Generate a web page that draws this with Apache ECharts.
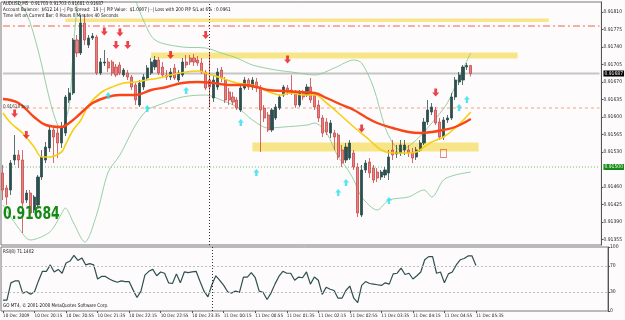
<!DOCTYPE html>
<html>
<head>
<meta charset="utf-8">
<script src="https://cdn.jsdelivr.net/npm/echarts@6.0.0/dist/echarts.min.js"></script>
<style>
html,body{margin:0;padding:0;background:#fdfbfc;}
#main{width:625px;height:320px;}
</style>
</head>
<body>
<div id="main"></div>
<script>
// 5 minute bars, 10 Dec 19:35 .. 11 Dec 05:35
var slotCount = 154;
var tickEvery = 8;
var tickLabels = ['10 Dec 2009','10 Dec 20:15','10 Dec 20:55','10 Dec 21:35','10 Dec 22:15','10 Dec 22:55','10 Dec 23:35','11 Dec 00:15','11 Dec 00:55','11 Dec 01:35','11 Dec 02:15','11 Dec 02:55','11 Dec 03:35','11 Dec 04:15','11 Dec 04:55','11 Dec 05:35'];
var priceTicks = [0.91355,0.91390,0.91425,0.91460,0.91530,0.91565,0.91600,0.91635,0.91670,0.91705,0.91740,0.91775,0.91810];
var rsiTicks = [0,30,70,100];

var openP = [
0.91488,0.91458,0.91454,0.91514,0.91524,0.91514,0.91434,0.91448,0.91414,0.91424,
0.91480,0.91514,0.91538,0.91574,0.91568,0.91548,0.91568,0.91634,0.91648,0.91754,
0.91728,0.91788,0.91744,0.91758,0.91760,0.91688,0.91708,0.91710,0.91710,0.91700,
0.91704,0.91684,0.91688,0.91680,0.91664,0.91624,0.91660,0.91678,0.91688,0.91700,
0.91714,0.91700,0.91684,0.91680,0.91698,0.91674,0.91684,0.91710,0.91718,0.91718,
0.91714,0.91708,0.91690,0.91674,0.91638,0.91660,0.91694,0.91674,0.91650,0.91640,
0.91634,0.91614,0.91658,0.91674,0.91660,0.91670,0.91658,0.91618,0.91604,0.91574,
0.91598,0.91618,0.91644,0.91658,0.91654,0.91650,0.91624,0.91648,0.91644,0.91660,
0.91644,0.91624,0.91598,0.91590,0.91568,0.91568,0.91564,0.91534,0.91514,0.91518,
0.91528,0.91500,0.91404,0.91494,0.91510,0.91498,0.91490,0.91480,0.91484,0.91488,
0.91534,0.91526,0.91528,0.91534,0.91534,0.91530,0.91520,0.91534,0.91548,0.91590,
0.91610,0.91614,0.91590,0.91560,0.91594,0.91598,0.91640,0.91670,0.91674,0.91700,
0.91703];
var closeP = [
0.91454,0.91440,0.91508,0.91524,0.91514,0.91428,0.91448,0.91408,0.91440,0.91480,
0.91520,0.91540,0.91574,0.91560,0.91548,0.91580,0.91640,0.91648,0.91754,0.91728,
0.91788,0.91754,0.91758,0.91762,0.91688,0.91710,0.91710,0.91698,0.91688,0.91684,
0.91688,0.91694,0.91680,0.91660,0.91634,0.91668,0.91680,0.91698,0.91710,0.91714,
0.91688,0.91684,0.91680,0.91690,0.91678,0.91688,0.91710,0.91704,0.91710,0.91710,
0.91708,0.91690,0.91658,0.91660,0.91674,0.91690,0.91678,0.91634,0.91634,0.91630,
0.91618,0.91658,0.91674,0.91660,0.91674,0.91658,0.91614,0.91598,0.91574,0.91614,
0.91620,0.91640,0.91660,0.91650,0.91650,0.91624,0.91650,0.91640,0.91660,0.91634,
0.91620,0.91598,0.91568,0.91570,0.91588,0.91560,0.91520,0.91508,0.91540,0.91548,
0.91500,0.91408,0.91494,0.91508,0.91488,0.91474,0.91478,0.91490,0.91494,0.91520,
0.91524,0.91530,0.91544,0.91544,0.91528,0.91518,0.91534,0.91548,0.91590,0.91614,
0.91620,0.91588,0.91560,0.91594,0.91598,0.91640,0.91674,0.91684,0.91700,0.91703,
0.91687];
var lowP = [
0.91434,0.91424,0.91444,0.91504,0.91498,0.91368,0.91428,0.91404,0.91408,0.91420,
0.91474,0.91508,0.91530,0.91508,0.91518,0.91538,0.91562,0.91628,0.91644,0.91720,
0.91724,0.91744,0.91738,0.91754,0.91684,0.91684,0.91702,0.91690,0.91682,0.91680,
0.91684,0.91680,0.91674,0.91654,0.91624,0.91620,0.91654,0.91674,0.91684,0.91694,
0.91684,0.91678,0.91674,0.91674,0.91674,0.91670,0.91680,0.91698,0.91704,0.91702,
0.91702,0.91686,0.91654,0.91620,0.91630,0.91654,0.91670,0.91628,0.91624,0.91624,
0.91614,0.91610,0.91654,0.91654,0.91654,0.91650,0.91530,0.91590,0.91570,0.91570,
0.91594,0.91614,0.91640,0.91644,0.91644,0.91618,0.91620,0.91634,0.91640,0.91628,
0.91614,0.91590,0.91560,0.91564,0.91558,0.91534,0.91514,0.91500,0.91508,0.91514,
0.91494,0.91400,0.91400,0.91488,0.91478,0.91468,0.91470,0.91474,0.91478,0.91474,
0.91514,0.91518,0.91522,0.91524,0.91520,0.91508,0.91514,0.91530,0.91544,0.91584,
0.91604,0.91584,0.91554,0.91554,0.91588,0.91594,0.91634,0.91664,0.91664,0.91694,
0.91681];
var highP = [
0.91504,0.91464,0.91514,0.91564,0.91534,0.91534,0.91454,0.91454,0.91444,0.91484,
0.91534,0.91550,0.91584,0.91582,0.91578,0.91590,0.91644,0.91658,0.91758,0.91764,
0.91804,0.91806,0.91764,0.91768,0.91764,0.91718,0.91734,0.91718,0.91714,0.91706,
0.91710,0.91698,0.91694,0.91684,0.91668,0.91674,0.91686,0.91704,0.91718,0.91722,
0.91720,0.91710,0.91694,0.91698,0.91706,0.91694,0.91718,0.91724,0.91724,0.91726,
0.91722,0.91718,0.91694,0.91730,0.91684,0.91698,0.91700,0.91680,0.91658,0.91650,
0.91640,0.91664,0.91680,0.91678,0.91680,0.91678,0.91664,0.91624,0.91610,0.91618,
0.91626,0.91644,0.91664,0.91664,0.91684,0.91654,0.91654,0.91654,0.91666,0.91678,
0.91650,0.91634,0.91604,0.91598,0.91594,0.91574,0.91568,0.91544,0.91548,0.91554,
0.91534,0.91508,0.91504,0.91514,0.91518,0.91504,0.91498,0.91494,0.91500,0.91534,
0.91554,0.91544,0.91554,0.91554,0.91544,0.91538,0.91540,0.91554,0.91598,0.91634,
0.91628,0.91620,0.91598,0.91600,0.91604,0.91648,0.91680,0.91690,0.91704,0.91708,
0.91703];

// moving averages (bar index / price)
var maRedIdx = [0,4,8,11,15,17,20,23,26,30,34,38,42,46,50,54,58,62,65,68,72,76,80,83,87,90,93,96,100,104,107,110,113,116,120];
var maRedVal = [0.91636,0.91628,0.91600,0.91584,0.91580,0.91588,0.91608,0.91628,0.91638,0.91644,0.91644,0.91654,0.91660,0.91668,0.91670,0.91668,0.91664,0.91664,0.91660,0.91654,0.91652,0.91650,0.91648,0.91638,0.91624,0.91614,0.91600,0.91588,0.91578,0.91570,0.91568,0.91570,0.91574,0.91580,0.91596];
var maYelIdx = [0,2,5,8,10,12,15,16,18,20,22,25,28,31,34,37,40,43,47,50,52,56,60,64,66,69,71,74,77,80,83,86,90,94,97,100,104,106,108,110,113,116,120];
var maYelVal = [0.91608,0.91588,0.91568,0.91540,0.91520,0.91520,0.91530,0.91544,0.91574,0.91594,0.91624,0.91648,0.91660,0.91668,0.91670,0.91674,0.91678,0.91684,0.91690,0.91692,0.91688,0.91678,0.91668,0.91664,0.91658,0.91648,0.91644,0.91648,0.91644,0.91644,0.91628,0.91608,0.91580,0.91554,0.91534,0.91528,0.91528,0.91530,0.91540,0.91550,0.91560,0.91578,0.91610];

// bollinger bands (upper band leaves the chart between the two parts)
var bbUpAIdx = [3,6,9,12,14,15,17,18,19];
var bbUpAVal = [0.91834,0.91808,0.91734,0.91634,0.91584,0.91578,0.91624,0.91734,0.91824];
var bbUpBIdx = [34,36,39,46,52,56,60,64,70,74,80,85,90,92,95,98,100,102,106,110,114,117,120];
var bbUpBVal = [0.91834,0.91794,0.91754,0.91740,0.91738,0.91728,0.91718,0.91704,0.91694,0.91690,0.91684,0.91698,0.91714,0.91708,0.91660,0.91580,0.91548,0.91534,0.91554,0.91588,0.91628,0.91680,0.91728];
var bbLoIdx = [0,4,7,12,15,16,18,21,24,27,30,34,37,40,46,52,56,60,64,68,72,78,80,83,86,88,90,92,96,99,104,108,110,113,116,120];
var bbLoVal = [0.91424,0.91378,0.91354,0.91370,0.91406,0.91418,0.91390,0.91350,0.91404,0.91490,0.91524,0.91584,0.91614,0.91624,0.91640,0.91644,0.91634,0.91620,0.91594,0.91578,0.91580,0.91584,0.91588,0.91568,0.91520,0.91500,0.91474,0.91440,0.91414,0.91434,0.91440,0.91454,0.91440,0.91474,0.91484,0.91490];

// signal arrows
var sellIdx = [26,30,29,32,52,43,73,3,6,111,92];
var sellVal = [0.91771,0.91769,0.91744,0.91744,0.91764,0.91724,0.91715,0.91607,0.91564,0.91649,0.91577];
var buyIdx = [27,37,47,61,65,88,86,99,117,119];
var buyVal = [0.91643,0.91617,0.91653,0.91589,0.91489,0.91469,0.91449,0.91433,0.91619,0.91635];
var boxIdx = [113];
var boxVal = [0.91527];

// horizontal levels
var levelTop = 0.91782;
var levelBuy = 0.91618;
var levelGreen = 0.91500;
var bidPrice = 0.91687;
var daySplit = 53;

// zones [fromIdx, toIdx, lowPrice, highPrice]
var zoneFrom = [16,38,64];
var zoneTo = [140,132,122];
var zoneLow = [0.91790,0.91717,0.91531];
var zoneHigh = [0.91797,0.91729,0.91549];

var rsi = [17,17,44,47,47,28,30,26,30,47,62,62,72,61,65,59,75,78,87,79,83,72,74,72,50,54,54,50,47,45,
47,46,46,33,21,31,56,62,65,55,61,59,44,43,58,44,61,60,61,62,46,31,22,41,55,48,40,30,28,31,
29,53,53,60,52,31,29,18,28,42,54,62,59,59,48,53,52,61,42,53,48,26,37,34,32,20,20,32,39,20,
13,40,46,43,42,41,40,44,42,58,59,67,57,59,50,55,61,80,85,85,59,61,44,58,61,72,80,82,86,86,71.14];

var cats = [];
for (var i = 0; i < slotCount; i++) cats.push(String(i));

var candles = [];
for (var i = 0; i < openP.length; i++) candles.push([openP[i], closeP[i], lowP[i], highP[i]]);

function pairs(idx, val) {
    var out = [];
    for (var k = 0; k < idx.length; k++) out.push([idx[k], val[k]]);
    return out;
}
function isTick(i) {
    return i % tickEvery === 0 && i / tickEvery < tickLabels.length;
}

var fnt = '"DejaVu Sans Condensed","Liberation Sans"';

var zones = [];
for (var z = 0; z < zoneFrom.length; z++) {
    zones.push([{xAxis: zoneFrom[z], yAxis: zoneHigh[z]}, {xAxis: zoneTo[z], yAxis: zoneLow[z]}]);
}

// horizontal level drawn across the whole chart
function level(v, style, boxColor) {
    var s = {type: 'line', data: [[0, v], [slotCount - 1, v]], symbol: 'none', z: 2, silent: true, lineStyle: style};
    if (boxColor) {
        s.endLabel = {show: true, distance: 4, formatter: v.toFixed(5), backgroundColor: boxColor, color: '#fff',
            padding: [1, 1, 0, 1], fontFamily: fnt, fontSize: 5};
    }
    return s;
}

var downArrow = 'path://M3,0 L7,0 L7,5 L10,5 L5,10 L0,5 L3,5 Z';
var upArrow = 'path://M5,0 L10,5 L7,5 L7,10 L3,10 L3,5 L0,5 Z';
var bandStyle = {color: '#8ccb9a', width: 0.9};

var myChart = echarts.init(document.getElementById('main'));
var option = {
    animation: false,
    backgroundColor: '#fdfbfc',
    grid: [
        {left: 1, right: 17, top: 2, height: 243, show: true, borderColor: '#7a7a7a', borderWidth: 1},
        {left: 1, right: 17, top: 247, height: 64, show: true, borderColor: '#7a7a7a', borderWidth: 1}
    ],
    xAxis: [
        {type: 'category', gridIndex: 0, data: cats, boundaryGap: true, show: false},
        {type: 'category', gridIndex: 1, data: cats, boundaryGap: true,
            axisLine: {show: false},
            axisTick: {show: true, length: 2, alignWithLabel: true, lineStyle: {color: '#555'},
                interval: function (i) { return isTick(i); }},
            axisLabel: {interval: 0, align: 'left', margin: 2, fontFamily: fnt, fontSize: 4.6, color: '#222',
                formatter: function (v, i) { return isTick(i) ? tickLabels[i / tickEvery] : ''; }}
        }
    ],
    yAxis: [
        {type: 'value', gridIndex: 0, position: 'right', min: 0.91344, max: 0.91830,
            splitLine: {show: false},
            axisLine: {show: true, lineStyle: {color: '#555'}},
            axisTick: {show: true, length: 2, customValues: priceTicks, lineStyle: {color: '#555'}},
            axisLabel: {customValues: priceTicks, margin: 2, fontFamily: fnt, fontSize: 5, color: '#222',
                formatter: function (v) { return v.toFixed(5); }}
        },
        {type: 'value', gridIndex: 1, position: 'right', min: 0, max: 100,
            splitLine: {show: false},
            axisLine: {show: true, lineStyle: {color: '#555'}},
            axisTick: {show: true, length: 2, customValues: rsiTicks, lineStyle: {color: '#555'}},
            axisLabel: {customValues: rsiTicks, margin: 2, fontFamily: fnt, fontSize: 5, color: '#222'}
        }
    ],
    series: [
        {   // zones underneath everything
            type: 'line', xAxisIndex: 0, yAxisIndex: 0, data: [], z: 1, silent: true,
            markArea: {silent: true, itemStyle: {color: '#f6e27a', opacity: 0.9}, data: zones}
        },
        level(levelTop, {color: '#f0604c', type: [7, 3, 2, 3], width: 1}),
        level(levelBuy, {color: '#f2a07c', type: [3, 3], width: 1}),
        level(levelGreen, {color: '#6cbf6c', type: [1, 2], width: 1}, '#168a16'),
        level(bidPrice, {color: '#c6c6c6', width: 2}, '#000'),
        {type: 'line', data: pairs(bbUpAIdx, bbUpAVal), smooth: 0.3, symbol: 'none', z: 2, lineStyle: bandStyle},
        {type: 'line', data: pairs(bbUpBIdx, bbUpBVal), smooth: 0.3, symbol: 'none', z: 2, lineStyle: bandStyle},
        {type: 'line', data: pairs(bbLoIdx, bbLoVal), smooth: 0.3, symbol: 'none', z: 2, lineStyle: bandStyle},
        {
            type: 'candlestick', xAxisIndex: 0, yAxisIndex: 0, data: candles, barWidth: 2.6, z: 3,
            itemStyle: {color: '#2f4f4f', color0: '#e88080', borderColor: '#2f4f4f', borderColor0: '#c84848', borderWidth: 0.8},
            markLine: {silent: true, symbol: 'none', label: {show: false},
                data: [{xAxis: String(daySplit), lineStyle: {color: '#000', type: [1, 2], width: 0.8}}]}
        },
        {type: 'line', data: pairs(maYelIdx, maYelVal), smooth: 0.4, symbol: 'none', z: 4,
            lineStyle: {color: '#f6cf12', width: 1.6}},
        {type: 'line', data: pairs(maRedIdx, maRedVal), smooth: 0.4, symbol: 'none', z: 4,
            lineStyle: {color: '#f8461a', width: 2.4}},
        {type: 'scatter', data: pairs(sellIdx, sellVal), symbol: downArrow, symbolSize: [7, 8], z: 5,
            itemStyle: {color: '#e8141c'}},
        {type: 'scatter', data: pairs(buyIdx, buyVal), symbol: upArrow, symbolSize: [6, 7], z: 5,
            itemStyle: {color: '#29e0f0'}},
        {type: 'scatter', data: pairs(boxIdx, boxVal), symbol: 'rect', symbolSize: [6, 8], z: 5,
            itemStyle: {color: 'rgba(0,0,0,0)', borderColor: '#e06060', borderWidth: 1}},
        {
            type: 'line', xAxisIndex: 1, yAxisIndex: 1, data: rsi, symbol: 'none',
            lineStyle: {color: '#2f4f4f', width: 1.2},
            markLine: {silent: true, symbol: 'none', label: {show: false},
                data: [
                    {yAxis: 70, lineStyle: {color: '#bdbdbd', type: [2, 2], width: 1}},
                    {yAxis: 30, lineStyle: {color: '#bdbdbd', type: [2, 2], width: 1}},
                    {xAxis: String(daySplit), lineStyle: {color: '#000', type: [1, 2], width: 0.8}}
                ]}
        }
    ],
    graphic: [
        {type: 'text', left: 3, top: 1, z: 10, scaleX: 0.92, style: {
            text: 'AUDUSD,M5  0.91703 0.91703 0.91681 0.91687\nAccount Balance:  $612.14 |--| Pip Spread:  19 |--| PIP Value:  $1.0907 |--| Loss with 200 PIP S/L at 6% : 0.0961\nTime left on Current Bar: 0 Hours 0 Minutes 40 Seconds',
            font: '5px ' + fnt, fill: '#111', lineHeight: 6}},
        {type: 'text', left: 3, top: 104, z: 10, scaleX: 0.92, style: {text: '0.91618 buy', font: '5px ' + fnt, fill: '#333'}},
        {type: 'text', left: 3, top: 205, z: 10, scaleX: 0.77, style: {text: '0.91684', font: 'bold 18px ' + fnt, fill: '#138a13'}},
        {type: 'text', left: 3, top: 249, z: 10, scaleX: 0.92, style: {text: 'RSI(8) 71.1402', font: '5px ' + fnt, fill: '#111'}},
        {type: 'text', left: 3, top: 303, z: 10, scaleX: 0.92, style: {text: 'GO MT4, \u00a9 2001-2008 MetaQuotes Software Corp.', font: '5px ' + fnt, fill: '#111'}}
    ]
};
myChart.setOption(option);
</script>
</body>
</html>
